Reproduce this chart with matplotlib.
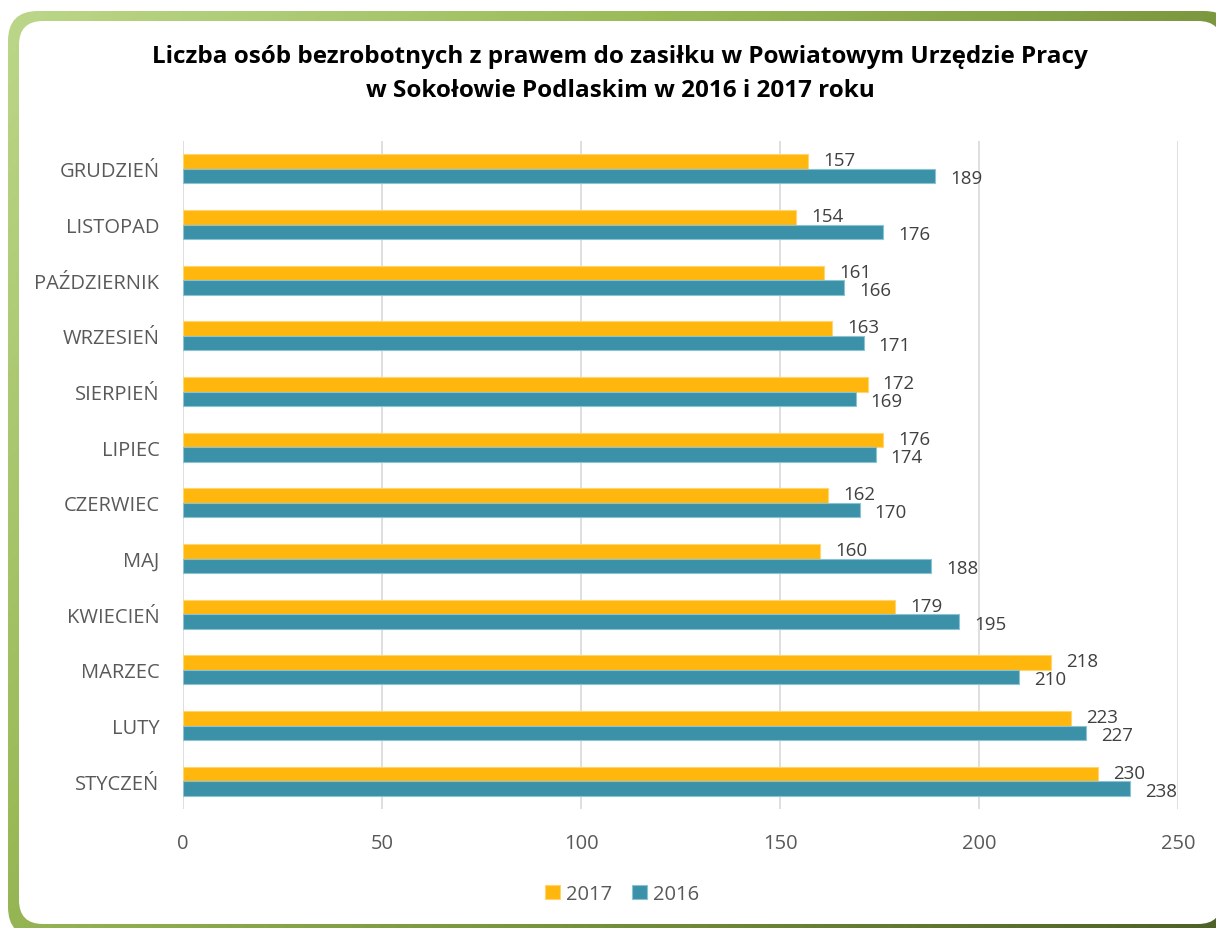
import numpy as np
import matplotlib.pyplot as plt
from matplotlib.colors import LinearSegmentedColormap
from matplotlib.patches import FancyBboxPatch

# data (bottom to top, as in the chart)
months = ["STYCZEŃ", "LUTY", "MARZEC", "KWIECIEŃ", "MAJ", "CZERWIEC",
          "LIPIEC", "SIERPIEŃ", "WRZESIEŃ", "PAŹDZIERNIK", "LISTOPAD", "GRUDZIEŃ"]
values_2017 = [230, 223, 218, 179, 160, 162, 176, 172, 163, 161, 154, 157]
values_2016 = [238, 227, 210, 195, 188, 170, 174, 169, 171, 166, 176, 189]
x_ticks = [0, 50, 100, 150, 200, 250]

title_lines = ["Liczba osób bezrobotnych z prawem do zasiłku w Powiatowym Urzędzie Pracy",
               "w Sokołowie Podlaskim w 2016 i 2017 roku"]

plt.rcParams['font.family'] = ['Open Sans', 'DejaVu Sans']

W, H = 1216, 929
fig = plt.figure(figsize=(W / 100, H / 100), dpi=100)
fig.patch.set_facecolor('white')

# background frame with green gradient border
bg = fig.add_axes([0, 0, 1, 1], zorder=-10)
bg.set_xlim(0, W)
bg.set_ylim(H, 0)
bg.axis('off')
frame_cmap = LinearSegmentedColormap.from_list('frame', ['#bcd78a', '#9bbb59', '#77933c', '#4f6228'])
gx, gy = np.meshgrid(np.linspace(0, 1, 300), np.linspace(0, 1, 240))
grad = 0.62 * gx + 0.38 * gy
outer = FancyBboxPatch((8, 12), 1226, 926, boxstyle="round,pad=0,rounding_size=30",
                       facecolor='none', edgecolor='none')
bg.add_patch(outer)
im = bg.imshow(grad, cmap=frame_cmap, extent=(0, W, H, 0), aspect='auto', vmin=0, vmax=1)
im.set_clip_path(outer)
inner = FancyBboxPatch((19, 22), 1203, 903, boxstyle="round,pad=0,rounding_size=24",
                       facecolor='white', edgecolor='none')
bg.add_patch(inner)

# main bar chart
ax = fig.add_axes([183 / W, 1 - 810 / H, (1178 - 183) / W, (810 - 142) / H])
y = np.arange(len(months))
h = 0.26
ax.barh(y + h / 2, values_2017, height=h, color='#FFB60D', edgecolor='#FFD56E',
        linewidth=0.8, label='2017', zorder=3)
ax.barh(y - h / 2, values_2016, height=h, color='#3A91A8', edgecolor='#8CC3D2',
        linewidth=0.8, label='2016', zorder=3)

for i in range(len(months)):
    ax.text(values_2017[i] + 3.8, y[i] + h / 2 + 0.02, str(values_2017[i]), fontsize=13.5,
            color='#404040', va='center', ha='left')
    ax.text(values_2016[i] + 3.8, y[i] - h / 2 - 0.04, str(values_2016[i]), fontsize=13.5,
            color='#404040', va='center', ha='left')

ax.set_xlim(0, 250)
ax.set_ylim(-0.5, 11.5)
ax.set_xticks(x_ticks)
ax.set_xticklabels([str(t) for t in x_ticks])
ax.set_yticks(y)
ax.set_yticklabels(months)
ax.tick_params(axis='both', length=0, labelsize=14.5, labelcolor='#595959')
ax.tick_params(axis='x', pad=17)
ax.tick_params(axis='y', pad=17)
ax.grid(axis='x', color='#d9d9d9', linewidth=1.2, zorder=0)
for s in ax.spines.values():
    s.set_visible(False)
ax.set_facecolor('none')

# title, two centred lines
for line, ypix in zip(title_lines, [57, 91]):
    fig.text(620 / W, 1 - ypix / H, line, ha='center', va='center', fontsize=17.5,
             fontweight='bold', color='black')

handles, labels = ax.get_legend_handles_labels()
fig.legend(handles, labels, loc='center', bbox_to_anchor=(622 / W, 1 - 895 / H), ncol=2,
           frameon=False, fontsize=14.5, labelcolor='#595959', handlelength=0.75,
           handleheight=0.75, handletextpad=0.3, columnspacing=1.0)

fig.savefig('out.png', dpi=100, facecolor='white')
